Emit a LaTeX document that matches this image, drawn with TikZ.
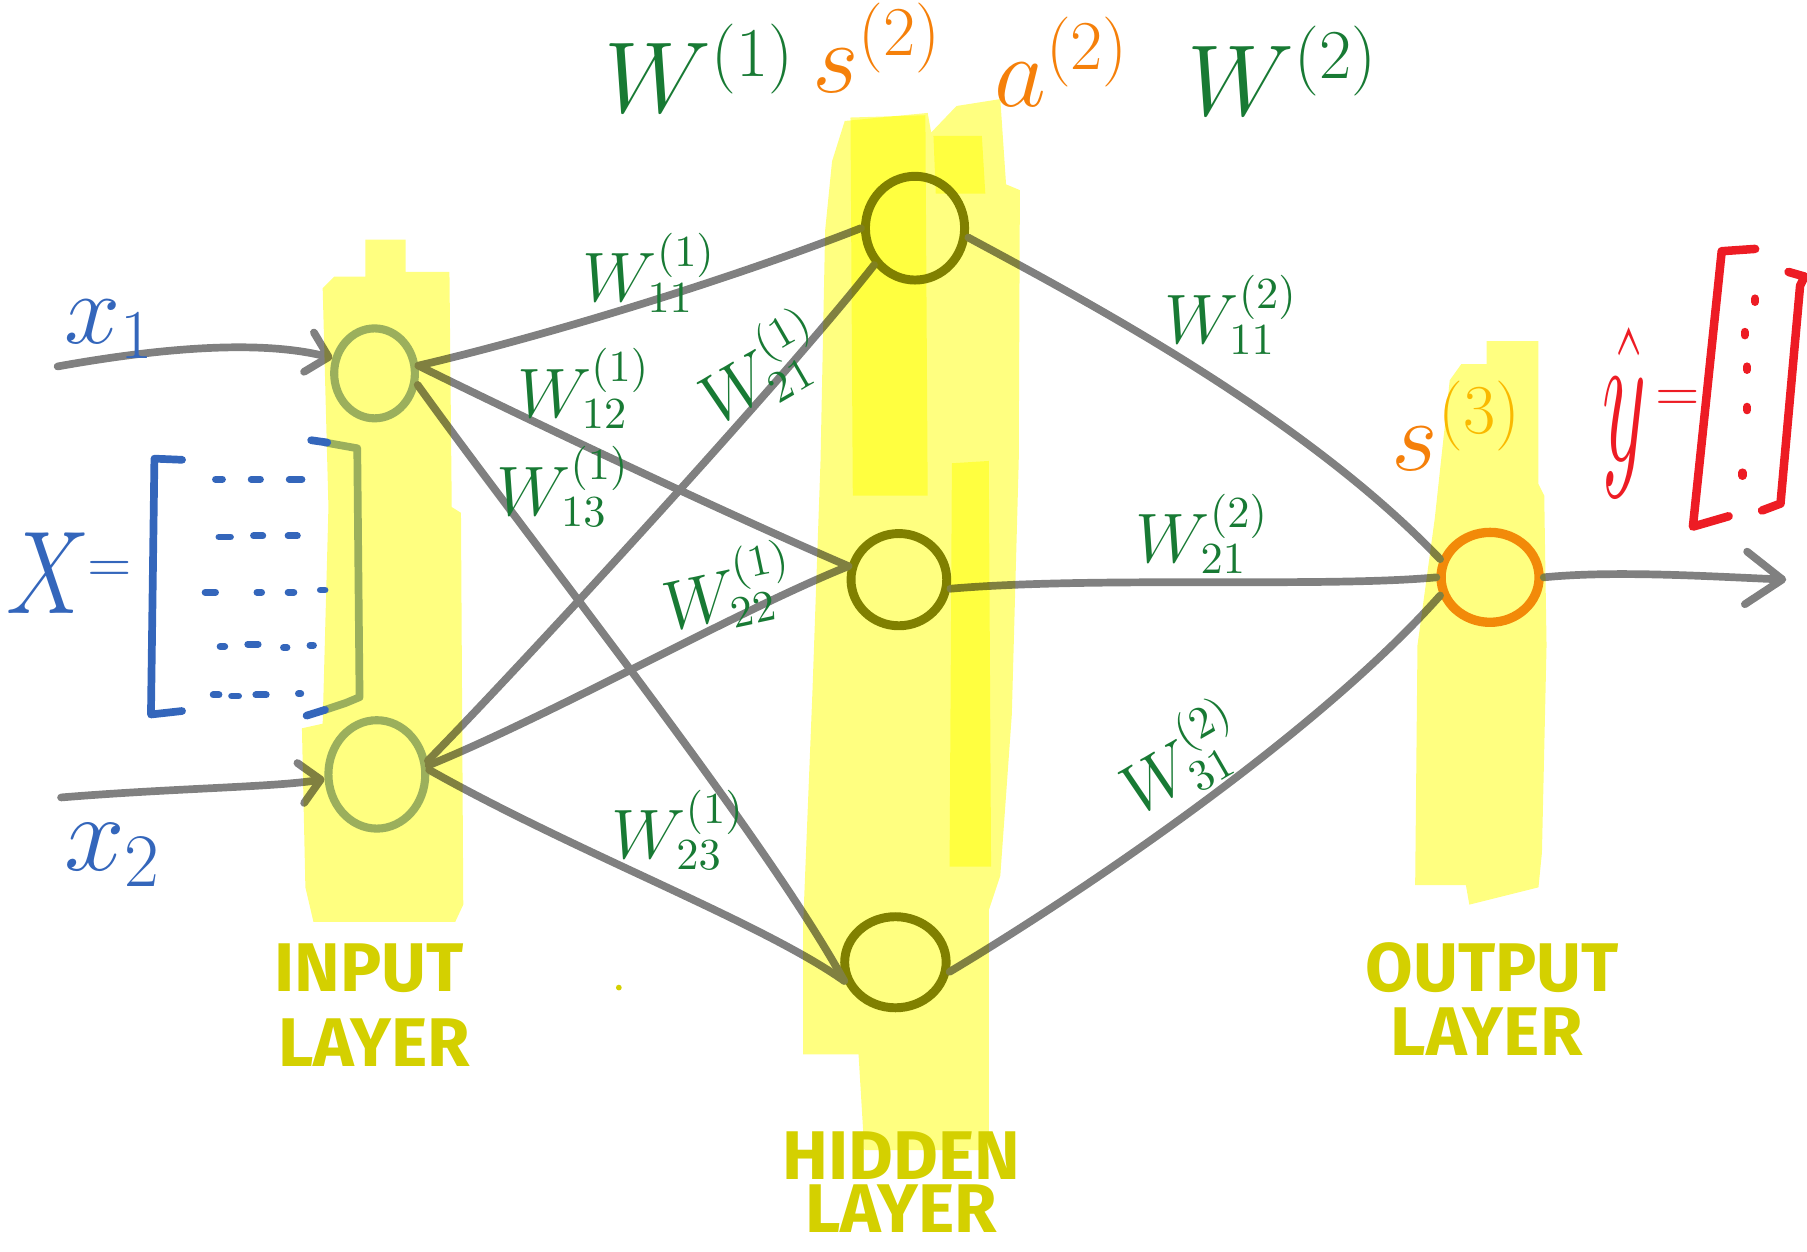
\documentclass[tikz,border=0pt]{standalone}
\usepackage{fontspec}
\newfontfamily\capfont{Fira Sans}
\usetikzlibrary{shapes.geometric,arrows.meta}
\definecolor{lgray}{RGB}{128,128,128}
\definecolor{inblue}{RGB}{155,175,185}
\definecolor{holive}{RGB}{128,128,0}
\definecolor{oorange}{RGB}{242,138,18}
\definecolor{hlyellow}{RGB}{255,255,128}
\definecolor{wgreen}{RGB}{24,122,52}
\definecolor{xblue}{RGB}{52,102,187}
\definecolor{sorange}{RGB}{245,128,10}
\definecolor{supyel}{RGB}{250,185,0}
\definecolor{yred}{RGB}{237,28,36}
\definecolor{capyel}{RGB}{212,208,0}
\begin{document}
\begin{tikzpicture}[x=0.01cm,y=-0.01cm,
  conn/.style={draw=lgray,line width=1.9pt,line cap=round},
  inode/.style={ellipse,draw=inblue,line width=2pt,inner sep=0pt},
  hnode/.style={ellipse,draw=holive,line width=2.2pt,inner sep=0pt},
  onode/.style={ellipse,draw=oorange,line width=2.3pt,inner sep=0pt},
  hl/.style={fill=hlyellow,blend mode=multiply},
  wlab/.style={text=wgreen,inner sep=0pt,font=\fontsize{16}{18}\selectfont},
  biglab/.style={inner sep=0pt,font=\fontsize{23}{25}\selectfont},
  caplab/.style={text=capyel,inner sep=0pt,font=\capfont\bfseries\fontsize{17}{19}\selectfont},
  barb/.style={-{Straight Barb[length=5pt,width=10pt,round]}},
  bigbarb/.style={-{Straight Barb[length=9pt,width=13pt,round]}},
  blueink/.style={draw=xblue,line width=1.9pt,line cap=round,line join=round},
  redink/.style={draw=yred,line width=2.1pt,line cap=round,line join=round},
]
\useasboundingbox (0,0) rectangle (1568,1086);

% ---------- nodes ----------
\node[inode,minimum width=0.70cm,minimum height=0.78cm] (I1) at (325,324) {};
\node[inode,minimum width=0.84cm,minimum height=0.94cm] (I2) at (327,672) {};
\node[hnode,minimum width=0.86cm,minimum height=0.90cm] (H1) at (794,198) {};
\node[hnode,minimum width=0.83cm,minimum height=0.80cm] (H2) at (780,503) {};
\node[hnode,minimum width=0.88cm,minimum height=0.79cm] (H3) at (777,835) {};
\node[onode,minimum width=0.85cm,minimum height=0.78cm] (O) at (1293,501) {};

\coordinate (x1s) at (50,318);
\coordinate (x2s) at (53,692);
\coordinate (yout) at (1550,503);

% ---------- connectors ----------
\draw[conn,barb] (x1s) .. controls (150,300) and (230,296) .. (I1.160);
\draw[conn,barb] (x2s) .. controls (150,684) and (240,683) .. (I2.185);

\draw[conn] (I1.10) .. controls (480,290) and (640,240) .. (H1.west);
\draw[conn] (I1.10) .. controls (470,370) and (640,450) .. (H2.165);
\draw[conn] (I1.-15) .. controls (460,470) and (660,720) .. (H3.200);
\draw[conn] (I2.15) .. controls (450,580) and (680,330) .. (H1.222);
\draw[conn] (I2.10) .. controls (480,620) and (640,530) .. (H2.165);
\draw[conn] (I2.5) .. controls (500,740) and (660,800) .. (H3.200);

\draw[conn] (H1.-10) .. controls (940,260) and (1130,360) .. (O.160);
\draw[conn] (H2.-10) .. controls (950,500) and (1150,510) .. (O.180);
\draw[conn] (H3.-10) .. controls (930,780) and (1140,640) .. (O.200);

\draw[conn,bigbarb] (O.east) .. controls (1400,495) and (1480,500) .. (yout);

% right bracket of X (under the highlighter)
\draw[draw=inblue,line width=1.9pt,line cap=round,line join=round]
  (282,384) -- (310,389) -- (312,605) -- (300,610) -- (282,616);

% ---------- highlighter ----------
\fill[hl] (317,208) -- (352,208) -- (352,236) -- (390,236) -- (392,440) -- (400,445)
  -- (402,785) -- (395,800) -- (272,800) -- (265,770) -- (262,632) -- (280,628)
  -- (285,440) -- (280,250) -- (290,240) -- (317,240) -- cycle;
\fill[hl] (733,105) -- (805,98) -- (808,115) -- (830,92) -- (868,86) -- (873,160)
  -- (885,165) -- (884,400) -- (878,620) -- (868,760) -- (858,790) -- (858,998)
  -- (750,998) -- (745,915) -- (697,915) -- (697,800) -- (705,600) -- (712,400)
  -- (716,200) -- (722,140) -- cycle;
\fill[hl] (738,102) -- (803,100) -- (805,430) -- (740,430) -- cycle;
\fill[hl] (810,118) -- (852,118) -- (855,168) -- (812,168) -- cycle;
\fill[hl] (826,402) -- (858,400) -- (860,752) -- (824,752) -- cycle;
\fill[hl] (1290,296) -- (1335,296) -- (1335,420) -- (1340,430) -- (1342,560)
  -- (1338,740) -- (1335,770) -- (1275,785) -- (1272,768) -- (1228,768)
  -- (1230,560) -- (1245,450) -- (1258,330) -- (1268,316) -- (1290,316) -- cycle;
\fill[capyel] (537,857) circle (2.5);

% ---------- X matrix ----------
\node[text=xblue,inner sep=0pt,font=\fontsize{24}{26}\selectfont] (Xlab) at (42,497) {\scalebox{0.93}[1.17]{$X$}};
\node[text=xblue,inner sep=0pt,font=\fontsize{15}{17}\selectfont] (Xeq) at (95,496) {$=$};
\draw[blueink] (158,399) -- (134,398) -- (131,620) -- (158,617);
\draw[blueink] (270,382) -- (284,384);
\draw[blueink] (266,621) -- (282,616);
\foreach \ya/\xa/\xb in {416/187/193,416/218/226,416/251/262,
                         466/190/200,465/220/228,465/250/258,
                         514/178/187,514/223/227,514/250/255,512/278/282,
                         561/191/195,559/215/224,562/246/249,560/269/272,
                         603/185/190,604/201/207,603/222/231,602/259/261}
  \draw[xblue,line width=1.7pt,line cap=round] (\xa,\ya) -- (\xb,\ya);

\node[text=xblue,inner sep=0pt,font=\fontsize{24}{26}\selectfont,anchor=base west] (x1lab) at (55,298) {$x_1$};
\node[text=xblue,inner sep=0pt,font=\fontsize{24}{26}\selectfont,anchor=base west] (x2lab) at (55,755) {\scalebox{1.08}{$x_2$}};

% ---------- top labels ----------
\node[biglab,text=wgreen,anchor=base west] (W1) at (524,98) {$W^{(1)}$};
\node[biglab,text=sorange,anchor=base west] (s2) at (704,80) {$s^{(2)}$};
\node[biglab,text=sorange,anchor=base west] (a2) at (862,92) {$a^{(2)}$};
\node[biglab,text=wgreen,anchor=base west] (W2) at (1030,100) {$W^{(2)}$};
\node[biglab,text=sorange,anchor=base west] (s3) at (1207,408) {$s^{\textcolor{supyel}{(3)}}$};

% ---------- weight labels ----------
\node[wlab,anchor=base west] (w111) at (505,262) {$W_{11}^{(1)}$};
\node[wlab,anchor=base west] (w121) at (448,362) {$W_{12}^{(1)}$};
\node[wlab,anchor=base west] (w131) at (430,447) {$W_{13}^{(1)}$};
\node[wlab,rotate=30] (w211) at (660,320) {$W_{21}^{(1)}$};
\node[wlab,anchor=base west,rotate=12] (w221) at (580,548) {$W_{22}^{(1)}$};
\node[wlab,anchor=base west] (w231) at (530,745) {$W_{23}^{(1)}$};
\node[wlab,anchor=base west] (w112) at (1010,298) {$W_{11}^{(2)}$};
\node[wlab,anchor=base west] (w212) at (985,488) {$W_{21}^{(2)}$};
\node[wlab,rotate=30] (w312) at (1025,658) {$W_{31}^{(2)}$};

% ---------- y hat ----------
\node[text=yred,inner sep=0pt,font=\fontsize{24}{26}\selectfont,anchor=base west] (yhat) at (1390,400) {\scalebox{0.85}[1.9]{$\hat{y}$}};
\node[text=yred,inner sep=0pt,font=\fontsize{14}{16}\selectfont] (yeq) at (1456,348) {$=$};
\draw[redink] (1523,216) -- (1494,218) -- (1469,457) -- (1500,448);
\draw[redink] (1552,236) -- (1566,240) -- (1562,248) -- (1545,437) -- (1529,443);
\foreach \xa/\ya in {1523/259,1514/288,1516/318,1516/353,1512/410}
  \draw[yred,line width=2pt,line cap=round] (\xa,\ya) -- (\xa,\ya+3);

% ---------- layer captions ----------
\node[caplab] (cin1) at (320,840) {INPUT};
\node[caplab] (cin2) at (325,905) {LAYER};
\node[caplab] (chid1) at (782,1003) {HIDDEN};
\node[caplab] (chid2) at (782,1049) {LAYER};
\node[caplab] (cout1) at (1295,840) {OUTPUT};
\node[caplab] (cout2) at (1290,895) {LAYER};
\end{tikzpicture}
\end{document}
